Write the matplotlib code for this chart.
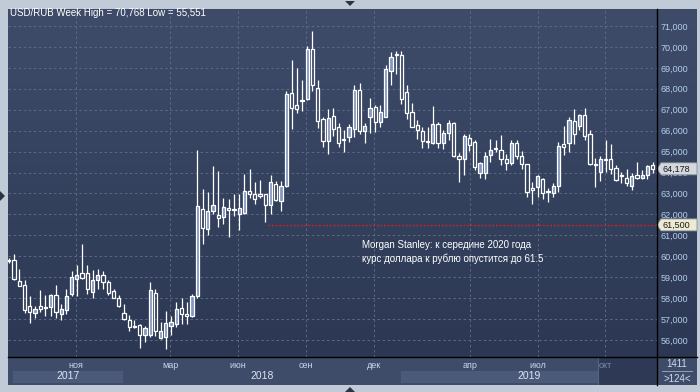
import numpy as np
import matplotlib.pyplot as plt
from matplotlib.patches import Polygon
from matplotlib import transforms

plt.rcParams['font.family'] = ['Liberation Sans', 'DejaVu Sans']

# weekly USD/RUB candles
opens = [59.82, 59.81, 58.84, 58.62, 57.61, 57.31, 57.61, 57.60, 57.60, 58.13,
         57.23, 57.45, 58.18, 58.92, 59.20, 59.18, 58.31, 58.88, 59.10, 58.75,
         58.34, 57.99, 57.30, 56.98, 56.65, 56.71, 56.22, 56.22, 58.26, 56.12,
         56.16, 56.65, 56.79, 57.52, 57.23, 57.15, 58.09, 62.27, 61.30, 62.18,
         61.95, 61.89, 62.32, 62.24, 62.03, 62.07, 63.10, 62.99, 62.99, 62.99,
         62.46, 63.47, 62.65, 63.36, 67.80, 67.23, 67.40, 67.50, 69.89, 68.02,
         66.54, 65.52, 66.69, 66.16, 65.60, 65.72, 66.10, 67.94, 65.97, 66.67,
         67.12, 66.40, 66.67, 68.87, 69.66, 69.62, 67.85, 66.88, 66.26, 65.99,
         65.50, 65.40, 66.30, 65.43, 65.89, 66.38, 64.79, 64.67, 65.67, 65.46,
         64.00, 63.98, 64.86, 65.19, 65.10, 64.67, 64.48, 65.43, 64.78, 64.40,
         63.25, 63.29, 63.71, 63.11, 63.00, 63.37, 65.35, 65.43, 66.44, 66.22,
         66.73, 65.83, 64.40, 64.03, 64.67, 64.67, 64.24, 63.86, 63.76, 63.37,
         63.86, 63.76, 63.87, 64.35]
highs = [59.90, 60.11, 59.37, 58.89, 58.10, 57.63, 58.37, 58.13, 58.21, 58.61,
         57.71, 58.42, 59.29, 59.57, 60.58, 59.57, 59.33, 59.37, 59.32, 58.89,
         58.42, 58.13, 57.71, 57.20, 56.95, 56.76, 56.68, 58.75, 58.42, 56.84,
         57.39, 57.15, 57.82, 58.02, 57.82, 58.18, 65.06, 63.20, 63.05, 64.29,
         64.06, 62.80, 62.72, 62.96, 62.96, 63.91, 64.18, 63.53, 63.63, 62.99,
         63.86, 63.58, 63.58, 67.90, 69.38, 68.98, 68.42, 70.05, 70.768, 68.42,
         66.64, 67.02, 67.07, 66.38, 66.03, 66.32, 68.18, 68.30, 66.35, 67.55,
         67.23, 67.23, 69.14, 69.74, 69.81, 69.81, 68.18, 67.31, 66.51, 66.19,
         66.19, 67.18, 66.42, 66.03, 66.52, 66.43, 64.94, 65.83, 65.86, 65.54,
         64.51, 64.98, 65.62, 65.54, 65.78, 64.90, 65.54, 65.54, 65.03, 64.43,
         63.56, 63.87, 63.76, 63.24, 63.48, 65.46, 66.21, 66.65, 67.05, 66.78,
         67.10, 66.02, 64.70, 64.78, 65.54, 65.35, 64.35, 64.03, 64.19, 63.98,
         64.51, 64.14, 64.35, 64.51]
lows = [59.70, 58.86, 58.56, 57.31, 56.81, 57.04, 57.36, 57.14, 57.15, 57.03,
        56.98, 57.23, 58.10, 58.10, 58.92, 58.21, 58.02, 58.45, 58.45, 58.13,
        57.99, 57.58, 56.98, 56.41, 56.57, 55.62, 55.89, 56.16, 56.19, 56.05,
        55.551, 56.24, 56.63, 56.76, 56.79, 57.10, 58.02, 60.57, 61.02, 62.03,
        61.40, 61.54, 60.92, 61.94, 61.24, 62.03, 62.80, 62.51, 62.80, 61.64,
        62.03, 62.64, 62.16, 63.30, 66.08, 66.86, 66.96, 67.47, 67.91, 66.11,
        65.21, 64.87, 65.75, 65.24, 64.97, 65.45, 65.68, 65.84, 65.43, 65.91,
        65.95, 66.19, 66.64, 68.17, 68.69, 67.29, 66.58, 66.16, 65.62, 65.16,
        65.16, 65.37, 65.16, 65.11, 65.54, 64.76, 63.56, 63.87, 65.03, 64.11,
        63.75, 63.67, 64.51, 64.98, 64.35, 64.14, 64.35, 64.67, 64.19, 62.81,
        62.52, 62.81, 62.76, 62.60, 62.81, 63.08, 64.83, 64.98, 65.38, 66.02,
        65.54, 64.35, 63.30, 63.60, 64.03, 63.95, 63.60, 63.48, 63.37, 63.19,
        63.71, 63.67, 63.71, 63.98]
closes = [59.78, 58.92, 58.56, 57.45, 57.36, 57.50, 57.50, 57.55, 58.13, 57.33,
          57.47, 58.08, 59.03, 59.13, 58.96, 58.42, 58.88, 59.10, 58.78, 58.26,
          57.99, 57.61, 56.99, 56.63, 56.63, 56.22, 56.57, 58.37, 56.44, 56.44,
          56.80, 56.87, 57.50, 57.26, 57.14, 58.09, 62.42, 61.37, 62.18, 62.46,
          61.84, 62.37, 62.23, 62.19, 62.32, 63.13, 62.99, 62.73, 62.88, 62.45,
          63.53, 62.67, 63.34, 67.74, 67.10, 67.02, 67.47, 69.89, 68.17, 66.46,
          65.52, 66.59, 66.08, 65.43, 65.55, 66.16, 67.94, 65.97, 66.22, 67.08,
          66.42, 66.88, 68.93, 69.50, 69.60, 67.51, 66.86, 66.16, 66.02, 65.51,
          65.45, 66.30, 65.40, 65.90, 66.37, 64.79, 64.67, 65.73, 65.30, 64.27,
          64.46, 64.78, 65.10, 65.14, 64.67, 64.48, 65.43, 64.79, 64.40, 63.05,
          63.19, 63.83, 63.03, 63.05, 63.37, 65.25, 65.22, 66.49, 65.86, 66.73,
          65.75, 64.40, 64.35, 64.67, 64.62, 64.19, 63.63, 63.83, 63.52, 63.83,
          63.76, 63.87, 64.33, 64.178]

month_labels = ['ноя', 'мар', 'июн', 'сен', 'дек', 'апр', 'июл', 'окт']
month_pos = [12.8, 30.8, 43.8, 56.8, 69.8, 88.1, 101.1, 113.9]
year_labels = ['2017', '2018', '2019']
year_start = [0.75, 21.8, 74.9]
price_ticks = list(range(56, 72))
target = 61.5
target_from = 49.5

W, H = 700, 392
X0, X1 = -0.1, 123.82
Y0, Y1 = 55.19, 71.836


def rect(x0, y0, x1, y1):
    return [x0 / W, 1 - y1 / H, (x1 - x0) / W, (y1 - y0) / H]


def fpt(x, y):
    return (x / W, 1 - y / H)


fig = plt.figure(figsize=(7, 3.92), dpi=100, facecolor='#c1cad7')

# gradient background for plot + price scale
bg = fig.add_axes(rect(8.3, 8.5, 697, 357))
g = np.linspace(0, 1, 256)[:, None, None]
top = np.array([0x3e, 0x4c, 0x6a]) / 255
bot = np.array([0x2c, 0x38, 0x53]) / 255
bg.imshow(top + (bot - top) * g, aspect='auto', extent=[0, 1, 0, 1])
bg.axis('off')

ax = fig.add_axes(rect(8.3, 8.5, 657, 357))
ax.set_facecolor('none')
ax.set_xlim(X0, X1)
ax.set_ylim(Y0, Y1)
for s in ax.spines.values():
    s.set_visible(False)

x = np.arange(len(closes))
o, h, l, c = map(np.array, (opens, highs, lows, closes))
up = c >= o
btop = np.maximum(o, c)
bbot = np.minimum(o, c)
hgt = np.maximum(btop - bbot, 0.03)
ax.vlines(x, btop, h, color='white', lw=0.9, zorder=3)
ax.vlines(x, l, bbot, color='white', lw=0.9, zorder=3)
ax.bar(x[up], hgt[up], 0.62, bottom=bbot[up], color='#8497c4',
       edgecolor='white', lw=0.9, zorder=4)
ax.bar(x[~up], hgt[~up], 0.62, bottom=bbot[~up], facecolor='none',
       edgecolor='white', lw=0.9, zorder=4)

ax.set_yticks(price_ticks)
ax.set_yticklabels([f'{v},000' for v in price_ticks])
ax.set_xticks(month_pos)
ax.yaxis.tick_right()
ax.tick_params(axis='y', length=0, pad=2.5, labelsize=6.5, labelcolor='#b4cdee')
ax.tick_params(axis='x', length=0, labelbottom=False)
ax.grid(True, color='#5b6985', lw=0.7, ls=(0, (2.6, 2.6)), zorder=1)

ax.hlines(target, target_from, X1, color='#d0202a', lw=1.0, ls=(0, (1.3, 1.3)), zorder=5)
ax.text(67.5, 60.2, 'Morgan Stanley: к середине 2020 года\nкурс доллара к рублю опустится до 61.5',
        color='white', fontsize=7, va='center', ha='left', linespacing=1.45)

# price tags on the scale
trans = transforms.blended_transform_factory(ax.transAxes, ax.transData)
aw = 648.7
dh = 6 * (Y1 - Y0) / 348.5
for val, fc in [(closes[-1], '#d4d8de'), (target, '#ecebd0')]:
    poly = Polygon([(1.0, val), (1 + 4 / aw, val + dh), (1 + 40 / aw, val + dh),
                    (1 + 40 / aw, val - dh), (1 + 4 / aw, val - dh)],
                   closed=True, transform=trans, facecolor=fc, edgecolor='#8a909a',
                   lw=0.6, clip_on=False, zorder=10)
    ax.add_patch(poly)
    ax.text(1 + 5 / aw, val, f'{val:.3f}'.replace('.', ','), transform=trans,
            fontsize=6.5, color='#1a1a1a', va='center', ha='left', clip_on=False, zorder=11)

# time axis band
bax = fig.add_axes(rect(8.3, 357.5, 657, 385))
bax.set_facecolor('#3f4c69')
bax.set_xlim(X0, X1)
bax.set_ylim(0, 1)
bax.set_xticks([])
bax.set_yticks([])
for s in bax.spines.values():
    s.set_visible(False)
year_end = year_start[1:] + [X1]
for i, (lab, s, e) in enumerate(zip(year_labels, year_start, year_end)):
    if i % 2 == 0:
        bax.axvspan(s, e, ymin=0.07, ymax=0.51, color='#4b5a79', lw=0)
    bax.text((s + e) / 2, 0.31, lab, ha='center', va='center', fontsize=7.5, color='#dbe4f3')
bax.axvspan(112.6, X1, color='#2e3a55', lw=0)
bax.axvline(112.6, color='#56637d', lw=0.8)
for i, (lab, p) in enumerate(zip(month_labels, month_pos)):
    col = '#7d8aa3' if i == len(month_labels) - 1 else '#c9d6ec'
    bax.text(p, 0.7, lab, ha='center', va='center', fontsize=6.5, color=col)

# corner box
cax = fig.add_axes(rect(657, 357.5, 697, 385))
cax.set_facecolor('#3f4c69')
cax.set_xlim(0, 1)
cax.set_ylim(0, 1)
cax.set_xticks([])
cax.set_yticks([])
for s in cax.spines.values():
    s.set_visible(False)
cax.text(0.5, 0.78, '1411', ha='center', va='center', fontsize=7, color='#d0dbee')
cax.text(0.5, 0.2, '>124<', ha='center', va='center', fontsize=7, color='#d0dbee')
cax.plot([0.12, 0.88], [0.5, 0.5], color='#a0b0c8', lw=0.6)

# frame lines
fig.add_artist(plt.Line2D([657 / W, 657 / W], [1 - 8.5 / H, 1 - 385 / H], color='black', lw=1.0,
                          transform=fig.transFigure))
fig.add_artist(plt.Line2D([8.3 / W, 697 / W], [1 - 357 / H, 1 - 357 / H], color='black', lw=1.0,
                          transform=fig.transFigure))

# small window arrows
for pts in ([fpt(345, 1), fpt(355, 1), fpt(350, 6)],
            [fpt(345, 392), fpt(355, 392), fpt(350, 387)],
            [fpt(0, 191), fpt(0, 201), fpt(5, 196)]):
    fig.add_artist(Polygon(pts, closed=True, transform=fig.transFigure,
                           facecolor='#2a3342', edgecolor='none'))

fig.text(10 / W, 1 - 13.5 / H, 'USD/RUB Week High = 70,768 Low = 55,551',
         color='white', fontsize=7, va='center', ha='left')

fig.savefig('out.png', dpi=100, facecolor=fig.get_facecolor())
